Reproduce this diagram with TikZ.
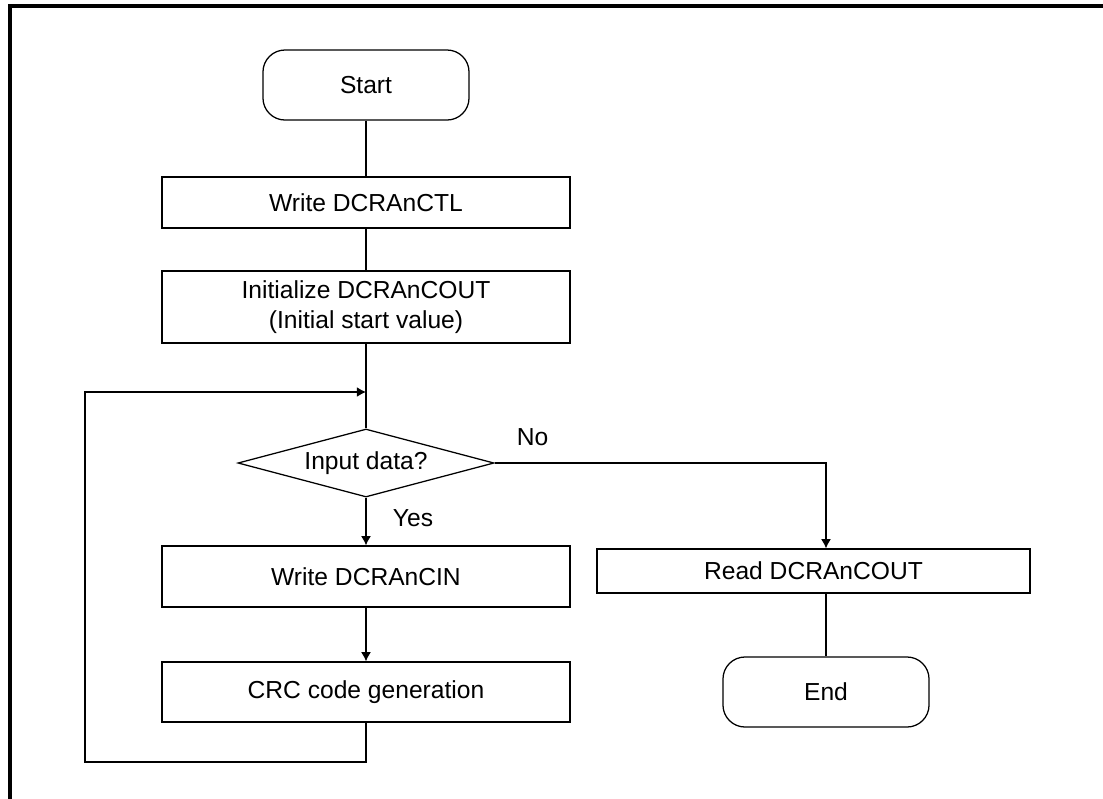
\documentclass[tikz,border=0pt]{standalone}
\usepackage{fontspec}
\setmainfont{Liberation Sans}
\usetikzlibrary{shapes.geometric,arrows.meta}
\begin{document}
\begin{tikzpicture}[x=0.025cm, y=-0.025cm, font=\fontsize{17.5}{21}\selectfont]
    % Styles
    \tikzstyle{block} = [rectangle, draw, line width=0.9pt, minimum width=10.2cm, align=center, inner sep=0pt]
    \tikzstyle{term} = [rectangle, draw, line width=0.9pt, rounded corners=0.55cm, minimum width=5.15cm, minimum height=1.75cm]
    \tikzstyle{decision} = [diamond, draw, line width=0.9pt, aspect=3.8, inner sep=0pt, minimum width=6.4cm, minimum height=1.7cm]
    \tikzstyle{line} = [line width=0.9pt]
    \tikzstyle{arrow} = [line width=0.9pt,-{Latex[length=6.5pt,width=7pt]}]

    \useasboundingbox (0,0) rectangle (1103,798);
    % Frame
    \draw [line width=2.2pt] (10,820) -- (10,6) -- (1120,6);

    % Nodes
    \node [term] (start) at (366,85) {Start};
    \node [block, minimum height=1.275cm] (wctl) at (366,202.5) {Write DCRAnCTL};
    \node [block, minimum height=1.8cm] (init) at (366,307) {Initialize DCRAnCOUT\\(Initial start value)};
    \node [decision] (input) at (366,463) {Input data?};
    \node [block, minimum height=1.525cm] (wcin) at (366,576.5) {Write DCRAnCIN};
    \node [block, minimum height=1.5cm] (crc) at (366,692) {CRC code generation};
    \node [block, minimum width=10.825cm, minimum height=1.1cm] (read) at (813.5,571) {Read DCRAnCOUT};
    \node [term] (end) at (826,692) {End};
    \node [anchor=west] (no) at (512,437) {No};
    \node [anchor=west] (yes) at (388,518) {Yes};

    \coordinate (join) at (366,392);
    \coordinate (loopa) at (366,762);
    \coordinate (loopb) at (85,762);
    \coordinate (loopc) at (85,392);

    % Arrows
    \draw [line] (start) -- (wctl);
    \draw [line] (wctl) -- (init);
    \draw [line] (init) -- (input);
    \draw [arrow] (input) -- (wcin);
    \draw [arrow] (wcin) -- (crc);
    \draw [arrow] (crc) -- (loopa) -- (loopb) -- (loopc) -- (join);
    \draw [arrow] (input.east) -| (end.north |- read.north);
    \draw [line] (end.north |- read.south) -- (end);
\end{tikzpicture}
\end{document}
